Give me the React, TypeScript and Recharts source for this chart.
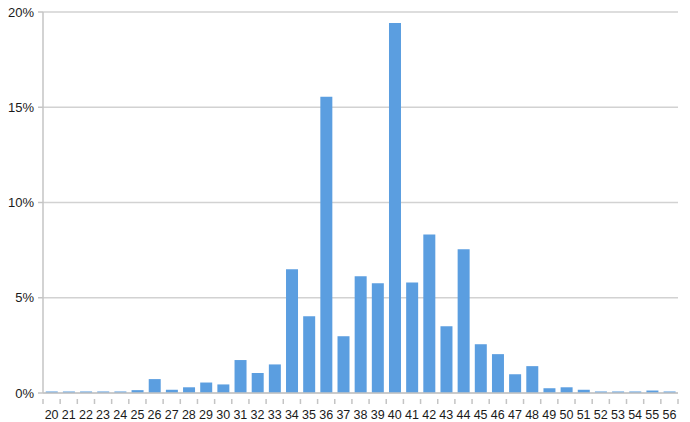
import { BarChart, Bar, XAxis, YAxis, CartesianGrid } from 'recharts';

// share of respondents by age
const ages = [
  '20', '21', '22', '23', '24', '25', '26', '27', '28', '29', '30', '31', '32',
  '33', '34', '35', '36', '37', '38', '39', '40', '41', '42', '43', '44', '45',
  '46', '47', '48', '49', '50', '51', '52', '53', '54', '55', '56',
];
const shares = [
  0.08, 0.08, 0.08, 0.08, 0.08, 0.15, 0.73, 0.17, 0.3, 0.55, 0.45, 1.73, 1.05,
  1.5, 6.5, 4.03, 15.55, 2.98, 6.13, 5.76, 19.42, 5.8, 8.32, 3.5, 7.54, 2.56,
  2.04, 0.99, 1.41, 0.25, 0.3, 0.17, 0.08, 0.08, 0.08, 0.13, 0.08,
];
const yTicks = [0, 5, 10, 15, 20];

const data = ages.map((age, i) => ({ age, share: shares[i] }));

const W = 690;
const H = 422;
const LEFT = 43;
const RIGHT = 12;
const HALF_BAND = (W - LEFT - RIGHT) / ages.length / 2;
const FONT = '"Liberation Sans", Arial, sans-serif';

function AgeTick(props: any) {
  const { x, y, payload, index } = props;
  const isLast = index === ages.length - 1;
  return (
    <g>
      <line x1={x - HALF_BAND} y1={y} x2={x - HALF_BAND} y2={y + 5} stroke="#c4c4c4" strokeWidth={1.5} />
      {isLast && (
        <line x1={x + HALF_BAND} y1={y} x2={x + HALF_BAND} y2={y + 5} stroke="#c4c4c4" strokeWidth={1.5} />
      )}
      <text x={x} y={y + 20} textAnchor="middle" fontSize={12.5} fill="#1a1a1a" fontFamily={FONT}>
        {payload.value}
      </text>
    </g>
  );
}

export default function App() {
  return (
    <div style={{ position: 'absolute', left: 0, top: 0, width: W, height: H, background: '#fff' }}>
      <BarChart
        width={W}
        height={H}
        data={data}
        margin={{ top: 12, right: RIGHT, left: 0, bottom: 0 }}
        barCategoryGap="16%"
      >
        <CartesianGrid vertical={false} stroke="#d2d2d2" strokeWidth={1.5} />
        <XAxis
          dataKey="age"
          interval={0}
          height={29}
          axisLine={{ stroke: '#c4c4c4', strokeWidth: 1.5 }}
          tickLine={false}
          tick={<AgeTick />}
          tickMargin={0}
        />
        <YAxis
          domain={[0, 20]}
          ticks={yTicks}
          width={LEFT}
          tickSize={5}
          tickMargin={4}
          tickFormatter={(v: number) => `${v}%`}
          axisLine={{ stroke: '#c4c4c4', strokeWidth: 1.5 }}
          tickLine={{ stroke: '#c4c4c4', strokeWidth: 1.5 }}
          tick={{ fontSize: 13, fill: '#1a1a1a', fontFamily: FONT }}
        />
        <Bar dataKey="share" fill="#5b9ee0" isAnimationActive={false} />
      </BarChart>
    </div>
  );
}
